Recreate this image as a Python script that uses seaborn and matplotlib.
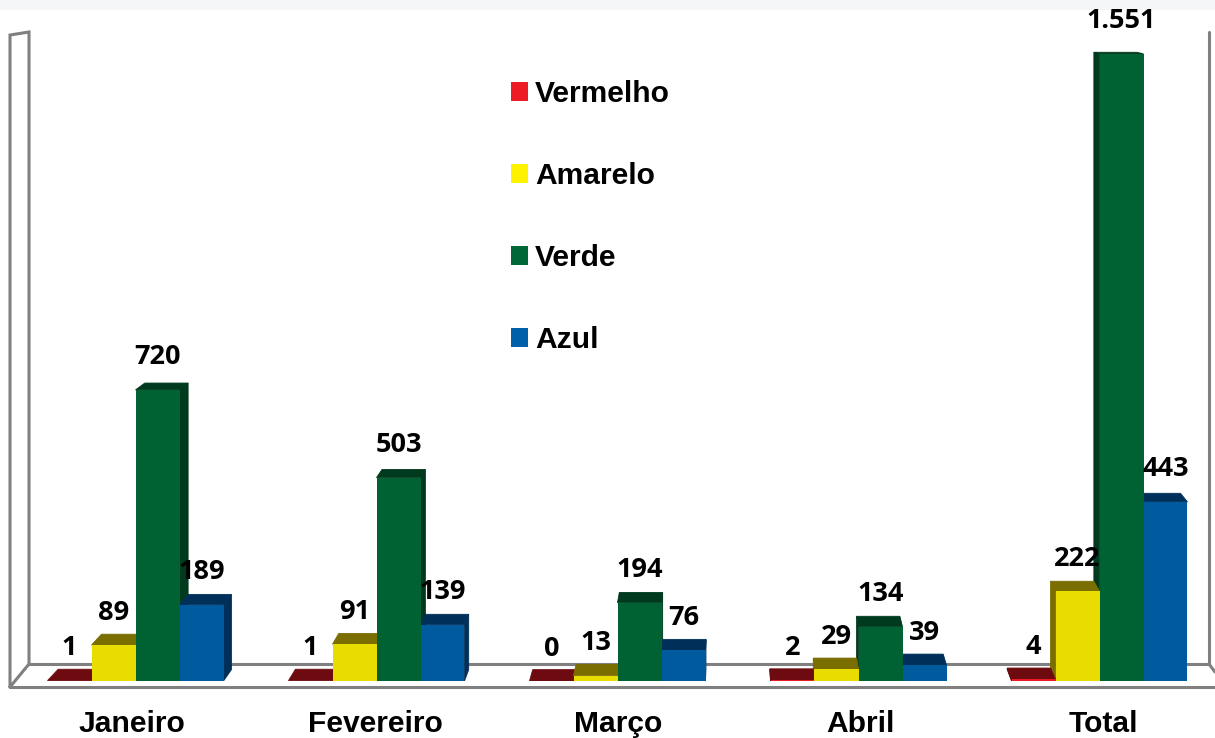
import pandas as pd
import matplotlib
matplotlib.use("Agg")
import matplotlib.pyplot as plt
import seaborn as sns
from matplotlib.patches import Patch, Polygon, Rectangle
from matplotlib.transforms import ScaledTranslation

# datos
meses = ["Janeiro", "Fevereiro", "Março", "Abril", "Total"]
vermelho = [1, 1, 0, 2, 4]
amarelo = [89, 91, 13, 29, 222]
verde = [720, 503, 194, 134, 1551]
azul = [189, 139, 76, 39, 443]

series = ["Vermelho", "Amarelo", "Verde", "Azul"]
cor_frente = ["#ED1C24", "#E8DC00", "#006233", "#005A9E"]
cor_topo = ["#6E0B10", "#7A6E00", "#003A1E", "#00305A"]
cor_lado = ["#6E0B10", "#7A6E00", "#003A1E", "#00305A"]
cor_legenda = ["#ED1C24", "#FFF200", "#006838", "#0060A9"]

W, H = 1215, 738
BASE_PX = 681          # linha zero
PX_POR_VALOR = 0.4043
CENTRO_PX = 135.5      # centro do primeiro grupo
PASSO_PX = 241

df = pd.DataFrame({"mes": meses, "Vermelho": vermelho, "Amarelo": amarelo,
                   "Verde": verde, "Azul": azul})
df = df.melt(id_vars="mes", var_name="serie", value_name="valor")

sns.set_theme(style="white")
plt.rcParams["font.family"] = ["Liberation Sans", "DejaVu Sans"]

fig = plt.figure(figsize=(W / 100, H / 100), dpi=100, facecolor="white")
ax = fig.add_axes([0, (H - BASE_PX) / H, 1, BASE_PX / H])
ax.patch.set_visible(False)

sns.barplot(data=df, x="mes", y="valor", hue="serie", order=meses, hue_order=series,
            palette=cor_frente, saturation=1, gap=0, width=176 / PASSO_PX,
            legend=False, ax=ax, zorder=5, linewidth=0)

ax.set_xlim(-CENTRO_PX / PASSO_PX, (W - CENTRO_PX) / PASSO_PX)
ax.set_ylim(0, BASE_PX / PX_POR_VALOR)
ax.set_xlabel("")
ax.set_ylabel("")
ax.set_yticks([])
sns.despine(ax=ax, left=True, bottom=True)
ax.tick_params(axis="x", length=0, pad=21)

# os nomes dos meses nao estao bem centrados no original (px)
desvio_px = [-4, -1, 1, 1.5, 4]
for t, d in zip(ax.get_xticklabels(), desvio_px):
    t.set_fontsize(21.6)
    t.set_fontweight("bold")
    t.set_color("black")
    t.set_transform(t.get_transform() + ScaledTranslation(d / 100, 0, fig.dpi_scale_trans))


def px(x, y):
    return (x - CENTRO_PX) / PASSO_PX, (BASE_PX - y) / PX_POR_VALOR


# faixa cinza no topo
fig.add_artist(Rectangle((0, 1 - 10 / H), 1, 10 / H, transform=fig.transFigure,
                         facecolor="#F5F6F8", edgecolor="none", zorder=-1))

# paredes e chao
for pts in ([(10, 687), (10, 35), (29, 32), (29, 664), (10, 687)],
            [(10, 687), (1215, 687)],
            [(29, 664), (1209, 664), (1209, 32)],
            [(1209, 664), (1215, 672)]):
    xs, ys = zip(*[px(*p) for p in pts])
    ax.plot(xs, ys, color="#808080", lw=2.2, clip_on=False, zorder=1,
            solid_joinstyle="miter")

# perspectiva das barras: ponto de fuga e profundidade
FUGA_X, FUGA_Y, PROF = 2.49, 1815, 0.0155


def fundo(x, y):
    return x + PROF * (FUGA_X - x), y + PROF * (FUGA_Y - y)


faces = []
for i, cont in enumerate(ax.containers):
    for barra in cont:
        x0, x1 = barra.get_x(), barra.get_x() + barra.get_width()
        h = barra.get_height()
        dist = max(abs(x0 - FUGA_X), abs(x1 - FUGA_X))
        faces.append((dist, x0, x1, h, i))

# desenha primeiro as mais distantes do ponto de fuga
faces.sort(key=lambda f: -f[0])
z = 2.0
for dist, x0, x1, h, i in faces:
    lado = None
    if x1 < FUGA_X:
        lado = x1
    elif x0 > FUGA_X:
        lado = x0
    if lado is not None:
        ax.add_patch(Polygon([(lado, 0), (lado, h), fundo(lado, h), fundo(lado, 0)],
                             facecolor=cor_lado[i], edgecolor=cor_lado[i], lw=0.6, zorder=z))
    ax.add_patch(Polygon([(x0, h), (x1, h), fundo(x1, h), fundo(x0, h)],
                         facecolor=cor_topo[i], edgecolor=cor_topo[i], lw=0.6, zorder=z))
    z += 0.01

# rotulos de valor
for cont, vals in zip(ax.containers, [vermelho, amarelo, verde, azul]):
    rotulos = [f"{v:,}".replace(",", ".") for v in vals]
    ax.bar_label(cont, labels=rotulos, padding=14, fontsize=19.5, fontweight="bold",
                 family="Open Sans", color="black", zorder=8)

# legenda
alcas = [Patch(facecolor=c, edgecolor="none", label=s) for c, s in zip(cor_legenda, series)]
leg = ax.legend(handles=alcas, loc="upper left", bbox_to_anchor=(484 / W, 1 - 53 / BASE_PX),
                frameon=False, prop={"family": "Liberation Sans", "weight": "bold", "size": 21.6},
                handlelength=0.58, handleheight=0.58, handletextpad=0.22, labelspacing=1.8)
for t in leg.get_texts():
    t.set_color("black")

fig.savefig("out.png", dpi=100)
